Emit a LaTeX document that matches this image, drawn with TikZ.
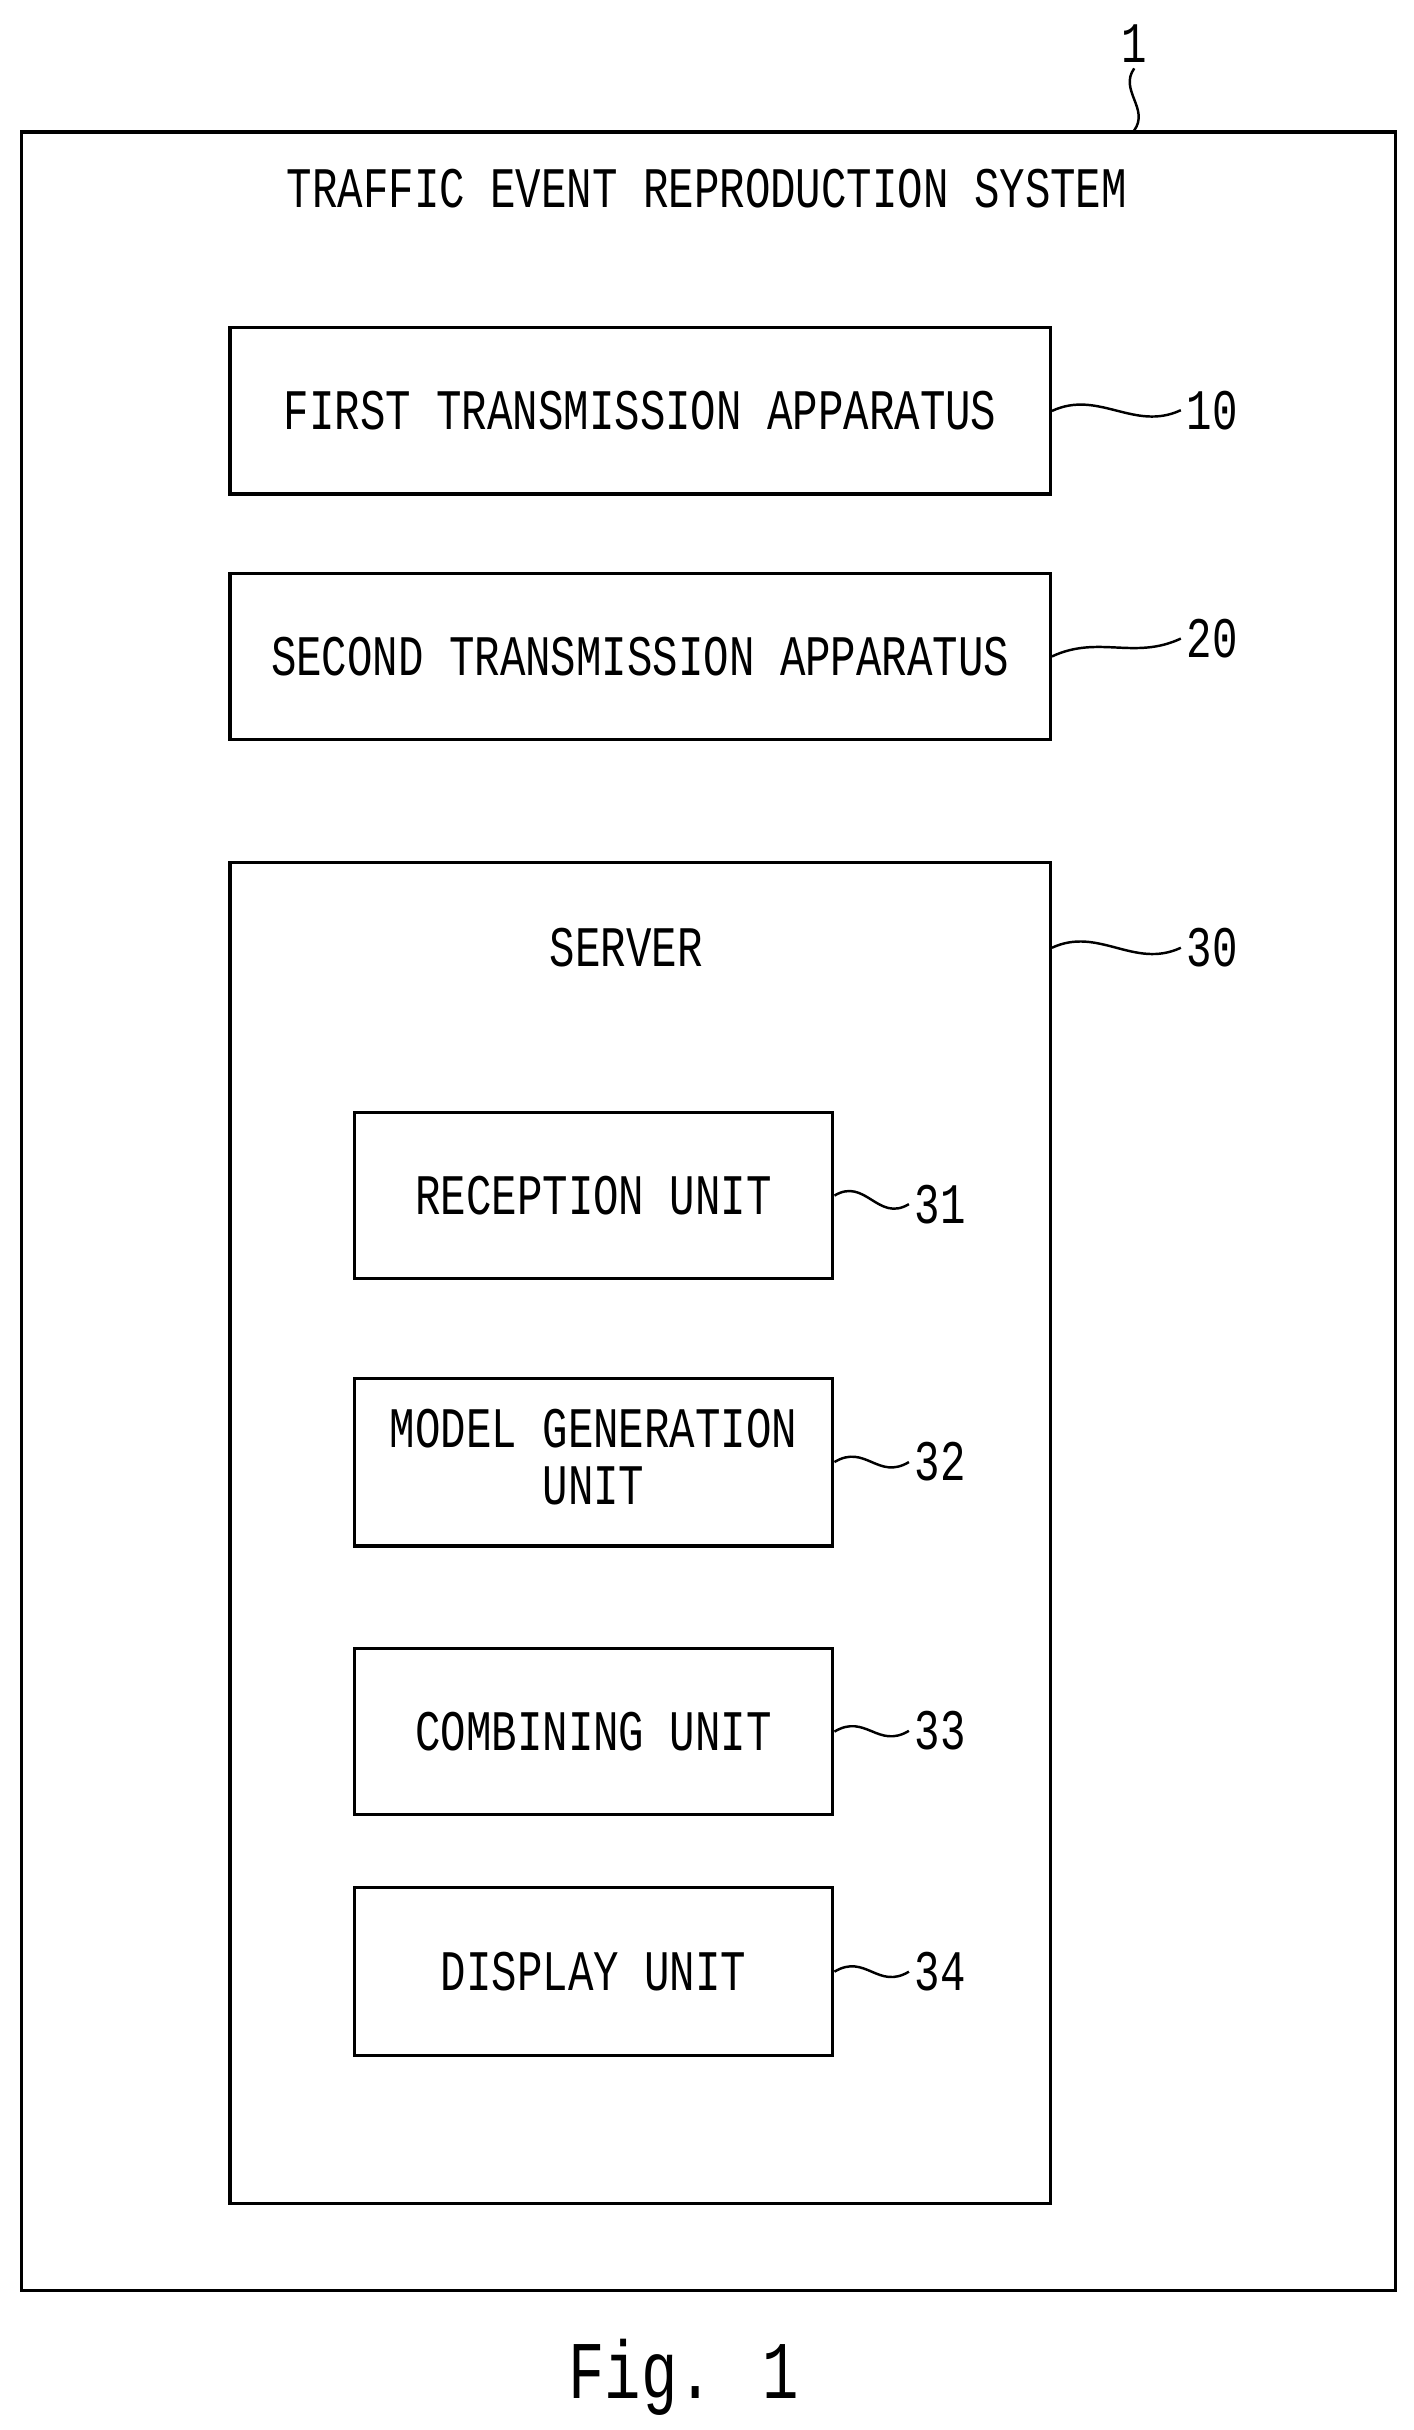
\documentclass[tikz,border=0pt]{standalone}
\usepackage{fontspec}
\setmainfont{Liberation Mono}
\newcommand{\nrw}[1]{\scalebox{0.74}[1]{#1}}
\begin{document}
\begin{tikzpicture}[x=0.02cm,y=-0.02cm]
  \tikzset{box/.style = {draw, line width=1.2pt, inner sep=0pt, font=\fontsize{21}{25}\selectfont}}
  \tikzset{lbl/.style = {inner sep=2pt, font=\fontsize{21}{25}\selectfont}}
  \tikzset{leader/.style = {line width=0.9pt}}
  \useasboundingbox (0,0) rectangle (910,1564);

\node[box, minimum width=884*0.02cm, minimum height=1389*0.02cm] (sys) at (456,779.5) {};
\node[lbl, anchor=north] at (455,105) {\nrw{TRAFFIC EVENT REPRODUCTION SYSTEM}};
\node[lbl] (l1) at (730,28) {\nrw{1}};

\node[box, minimum width=528*0.02cm, minimum height=107*0.02cm] (tx1) at (412,264.5) {\nrw{FIRST TRANSMISSION APPARATUS}};
\node[box, minimum width=528*0.02cm, minimum height=107*0.02cm] (tx2) at (412,422.5) {\nrw{SECOND TRANSMISSION APPARATUS}};
\node[box, minimum width=528*0.02cm, minimum height=863*0.02cm] (srv) at (412,986.5) {};
\node[lbl] at (403,610) {\nrw{SERVER}};

\node[box, minimum width=308*0.02cm, minimum height=107*0.02cm] (rcv) at (382,769.5) {\nrw{RECEPTION UNIT}};
\node[box, minimum width=308*0.02cm, minimum height=108*0.02cm] (mdl) at (382,941) {\nrw{\begin{tabular}{@{}c@{}}MODEL GENERATION\\[-4pt]UNIT\end{tabular}}};
\node[box, minimum width=308*0.02cm, minimum height=107*0.02cm] (cmb) at (382,1114.5) {\nrw{COMBINING UNIT}};
\node[box, minimum width=308*0.02cm, minimum height=108*0.02cm] (dsp) at (382,1269) {\nrw{DISPLAY UNIT}};

\node[lbl, anchor=west] (l10) at (760,264) {\nrw{10}};
\node[lbl, anchor=west] (l20) at (760,411) {\nrw{20}};
\node[lbl, anchor=west] (l30) at (760,610) {\nrw{30}};
\node[lbl, anchor=west] (l31) at (585,775) {\nrw{31}};
\node[lbl, anchor=west] (l32) at (585,941) {\nrw{32}};
\node[lbl, anchor=west] (l33) at (585,1114) {\nrw{33}};
\node[lbl, anchor=west] (l34) at (585,1269) {\nrw{34}};

\node[font=\fontsize{30}{36}\selectfont] (fig) at (440,1530) {\nrw{Fig. 1}};

% leaders
\draw[leader] (tx1.east) .. controls +(30,-14) and +(-30,14) .. (l10.west);
\draw[leader] (tx2.east) .. controls +(30,-14) and +(-30,14) .. (l20.west);
\draw[leader] (srv.east |- l30) .. controls +(30,-14) and +(-30,14) .. (l30.west);
\draw[leader] (rcv.east) .. controls +(20,-12) and +(-20,12) .. (l31.west);
\draw[leader] (mdl.east) .. controls +(20,-12) and +(-20,12) .. (l32.west);
\draw[leader] (cmb.east) .. controls +(20,-12) and +(-20,12) .. (l33.west);
\draw[leader] (dsp.east) .. controls +(20,-12) and +(-20,12) .. (l34.west);
\draw[leader] (l1.south) .. controls +(-10,14) and +(10,-14) .. (l1.south |- sys.north);
\end{tikzpicture}
\end{document}
